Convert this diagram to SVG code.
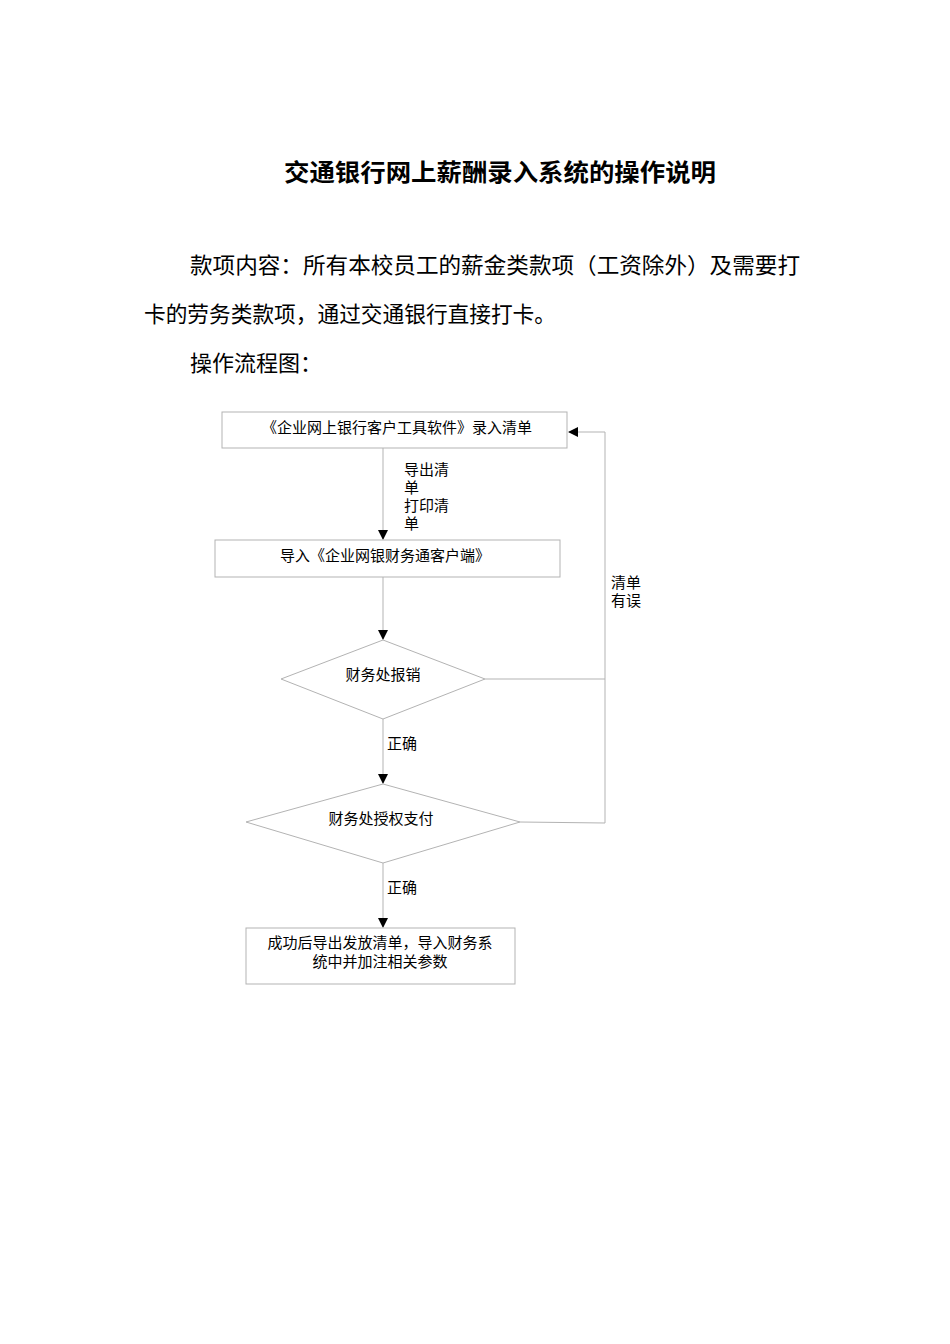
<svg xmlns="http://www.w3.org/2000/svg" width="950" height="1344" viewBox="0 0 950 1344">
<style>
.t{font-family:"Noto Sans CJK SC","Liberation Serif",serif;fill:#000}
.n{font-size:15px}
.p{font-size:22px}
.b{fill:#fff;stroke:#b3b3b3;stroke-width:1}
.c{fill:none;stroke:#b3b3b3;stroke-width:1}
</style>
<defs><marker id="a" markerWidth="10" markerHeight="10" refX="9" refY="5" orient="auto" markerUnits="userSpaceOnUse"><path d="M0,0 L10,5 L0,10 Z" fill="#000"/></marker></defs>
<rect width="950" height="1344" fill="#fff"/>
<text class="t" x="500" y="181" font-size="24" font-weight="bold" text-anchor="middle" textLength="432" lengthAdjust="spacingAndGlyphs">交通银行网上薪酬录入系统的操作说明</text>
<text class="t p" x="190" y="273" textLength="610" lengthAdjust="spacingAndGlyphs">款项内容：所有本校员工的薪金类款项（工资除外）及需要打</text>
<text class="t p" x="144" y="322" textLength="412" lengthAdjust="spacingAndGlyphs">卡的劳务类款项，通过交通银行直接打卡。</text>
<text class="t p" x="190" y="371">操作流程图：</text>
<g id="connectors">
<path class="c" d="M383,448 V539" marker-end="url(#a)"/>
<path class="c" d="M383,577 V639" marker-end="url(#a)"/>
<path class="c" d="M383,719 V783" marker-end="url(#a)"/>
<path class="c" d="M383,863 V927" marker-end="url(#a)"/>
<path class="c" d="M485,679 H605"/>
<path class="c" d="M520,822 L605,823 V432 H569" marker-end="url(#a)"/>
<text class="t n" x="404" y="475">导出清</text><text class="t n" x="404" y="493">单</text>
<text class="t n" x="404" y="511">打印清</text><text class="t n" x="404" y="529">单</text>
<text class="t n" x="611" y="588">清单</text><text class="t n" x="611" y="606">有误</text>
<text class="t n" x="387" y="749">正确</text>
<text class="t n" x="387" y="893">正确</text>
</g>
<g id="n1"><rect class="b" x="222" y="412" width="345" height="36"/><text class="t n" x="397" y="433" text-anchor="middle">《企业网上银行客户工具软件》录入清单</text></g>
<g id="n2"><rect class="b" x="215" y="540" width="345" height="37"/><text class="t n" x="385" y="561" text-anchor="middle">导入《企业网银财务通客户端》</text></g>
<g id="n3"><polygon class="b" points="383,640 485,679 383,719 281,679"/><text class="t n" x="383" y="680" text-anchor="middle">财务处报销</text></g>
<g id="n4"><polygon class="b" points="383,784 520,822 383,863 246,822"/><text class="t n" x="381" y="824" text-anchor="middle">财务处授权支付</text></g>
<g id="n5"><rect class="b" x="246" y="928" width="269" height="56"/><text class="t n" x="380" y="948" text-anchor="middle">成功后导出发放清单，导入财务系</text><text class="t n" x="380" y="967" text-anchor="middle">统中并加注相关参数</text></g>
</svg>
